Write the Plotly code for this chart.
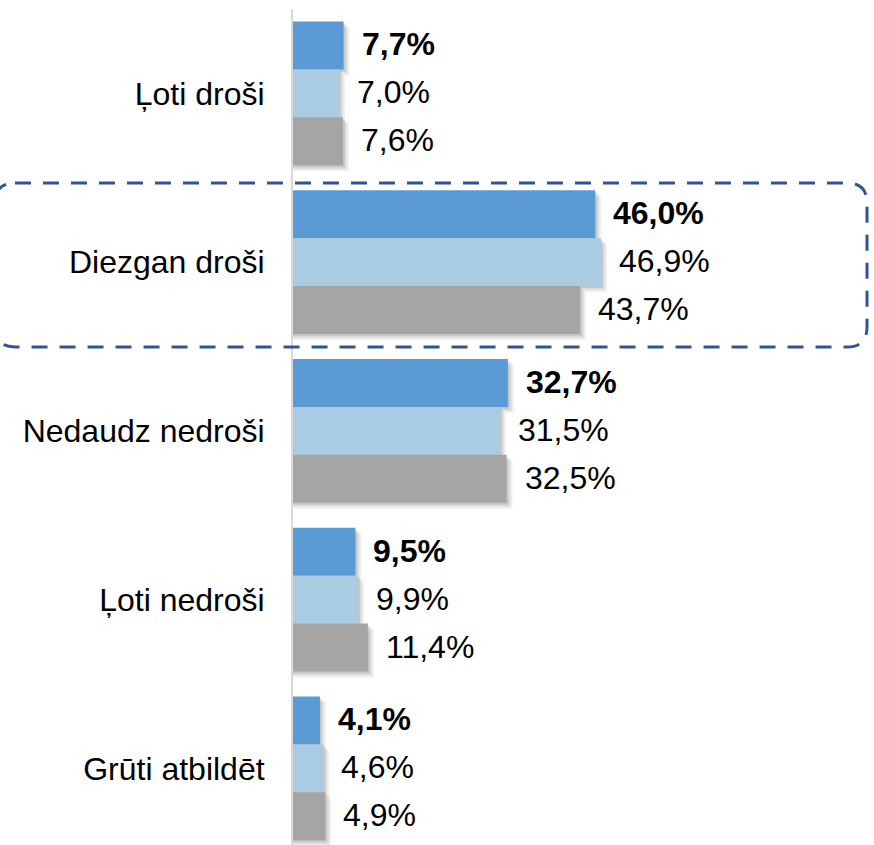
import plotly.graph_objects as go

categories = ["Ļoti droši", "Diezgan droši", "Nedaudz nedroši", "Ļoti nedroši", "Grūti atbildēt"]
series_a = [7.7, 46.0, 32.7, 9.5, 4.1]
series_b = [7.0, 46.9, 31.5, 9.9, 4.6]
series_c = [7.6, 43.7, 32.5, 11.4, 4.9]
series_values = [series_a, series_b, series_c]
colors = ["#5B9BD5", "#A9CCE3", "#A5A5A5"]

W, H = 874, 845
ml, mr, mt, mb = 293, 3, 9, 0
plot_w = W - ml - mr
plot_h = H - mt - mb
px_per_cat = 168.75
px_per_pct = 6.57
x_max = plot_w / px_per_pct
y_span = plot_h / px_per_cat

group = 0.853
w = group / 3

fig = go.Figure()

# shadows
for i, vals in enumerate(series_values):
    off = -group / 2 + i * w
    for d_px, alpha in [(6, 0.06), (4, 0.08), (2, 0.10)]:
        fig.add_trace(go.Bar(
            y=categories, x=[v + d_px / px_per_pct for v in vals], orientation="h",
            width=w, offset=off + d_px / px_per_cat,
            marker=dict(color=f"rgba(0,0,0,{alpha})", line=dict(width=0)),
            hoverinfo="skip", showlegend=False))

for i, vals in enumerate(series_values):
    off = -group / 2 + i * w
    fig.add_trace(go.Bar(
        y=categories, x=vals, orientation="h", width=w, offset=off,
        marker=dict(color=colors[i], line=dict(width=0)), showlegend=False))

font_family = "Liberation Sans, Arial, sans-serif"
FS = 32
for i, vals in enumerate(series_values):
    for c, v in zip(categories, vals):
        txt = f"{v:.1f}%".replace(".", ",")
        if i == 0:
            txt = f"<b>{txt}</b>"
        fig.add_annotation(x=v, y=c, text=txt, showarrow=False, xanchor="left",
                           xshift=16, yshift=-(i - 1) * px_per_cat * w + 1,
                           font=dict(size=FS, color="black", family=font_family))

# dashed rounded rectangle around "Diezgan droši"
def P(px, py):
    x, y = (px - ml) / plot_w, 1 - (py - mt) / plot_h
    return f"{x:.5f},{y:.5f}"

L, R, T, B, r = -5, 867, 183, 347, 20
path = (f"M {P(L + r, T)} L {P(R - r, T)} Q {P(R, T)} {P(R, T + r)} "
        f"L {P(R, B - r)} Q {P(R, B)} {P(R - r, B)} L {P(L + r, B)} "
        f"Q {P(L, B)} {P(L, B - r)} L {P(L, T + r)} Q {P(L, T)} {P(L + r, T)} Z")
fig.add_shape(type="path", xref="paper", yref="paper", path=path,
              line=dict(color="#2F5597", width=3, dash="16px,12px"),
              fillcolor="rgba(0,0,0,0)", layer="above")

fig.update_layout(
    width=W, height=H, barmode="overlay",
    margin=dict(l=ml, r=mr, t=mt, b=mb, pad=0),
    plot_bgcolor="white", paper_bgcolor="white",
    font=dict(family=font_family, size=FS, color="black"),
    xaxis=dict(range=[0, x_max], visible=False, fixedrange=True),
    yaxis=dict(range=[-0.5 + y_span, -0.5], type="category", automargin=False,
               showline=True, linecolor="#D9D9D9", linewidth=2,
               showgrid=False, zeroline=False, ticks="",
               ticklabelstandoff=20, fixedrange=True,
               tickfont=dict(size=FS, color="black", family=font_family)),
)

fig.write_html("out.html", config={"displayModeBar": False},
               post_script="document.body.style.margin='0';document.body.style.overflow='hidden';")
